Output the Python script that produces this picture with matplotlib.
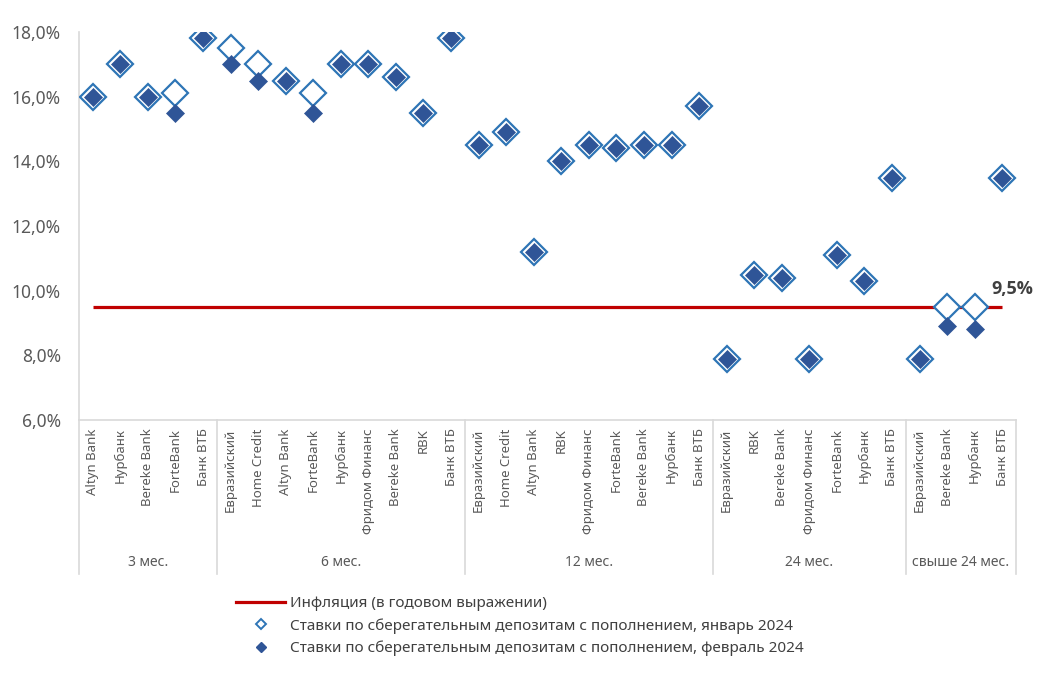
import matplotlib
matplotlib.use("Agg")
import matplotlib.pyplot as plt
from matplotlib.lines import Line2D
from matplotlib.ticker import FuncFormatter, MultipleLocator

plt.rcParams['font.family'] = ['Noto Sans', 'DejaVu Sans']

groups = ["3 мес.", "6 мес.", "12 мес.", "24 мес.", "свыше 24 мес."]
banks_3m = ["Altyn Bank", "Нурбанк", "Bereke Bank", "ForteBank", "Банк ВТБ"]
banks_6m = ["Евразийский", "Home Credit", "Altyn Bank", "ForteBank", "Нурбанк",
            "Фридом Финанс", "Bereke Bank", "RBK", "Банк ВТБ"]
banks_12m = ["Евразийский", "Home Credit", "Altyn Bank", "RBK", "Фридом Финанс",
             "ForteBank", "Bereke Bank", "Нурбанк", "Банк ВТБ"]
banks_24m = ["Евразийский", "RBK", "Bereke Bank", "Фридом Финанс", "ForteBank",
             "Нурбанк", "Банк ВТБ"]
banks_24p = ["Евразийский", "Bereke Bank", "Нурбанк", "Банк ВТБ"]

jan_3m = [16.0, 17.0, 16.0, 16.1, 17.8]
feb_3m = [16.0, 17.0, 16.0, 15.5, 17.8]
jan_6m = [17.5, 17.0, 16.5, 16.1, 17.0, 17.0, 16.6, 15.5, 17.8]
feb_6m = [17.0, 16.5, 16.5, 15.5, 17.0, 17.0, 16.6, 15.5, 17.8]
jan_12m = [14.5, 14.9, 11.2, 14.0, 14.5, 14.4, 14.5, 14.5, 15.7]
feb_12m = [14.5, 14.9, 11.2, 14.0, 14.5, 14.4, 14.5, 14.5, 15.7]
jan_24m = [7.9, 10.5, 10.4, 7.9, 11.1, 10.3, 13.5]
feb_24m = [7.9, 10.5, 10.4, 7.9, 11.1, 10.3, 13.5]
jan_24p = [7.9, 9.5, 9.5, 13.5]
feb_24p = [7.9, 8.9, 8.8, 13.5]

inflation = 9.5

group_banks = [banks_3m, banks_6m, banks_12m, banks_24m, banks_24p]
labels = sum(group_banks, [])
jan = jan_3m + jan_6m + jan_12m + jan_24m + jan_24p
feb = feb_3m + feb_6m + feb_12m + feb_24m + feb_24p
x = list(range(len(labels)))

W, H = 1043, 673
fig = plt.figure(figsize=(W / 100, H / 100), dpi=100)
ax = fig.add_axes([79 / W, (H - 420) / H, (1016 - 79) / W, (420 - 32) / H])

text_c = '#595959'
axis_c = '#D9D9D9'
red = '#C00000'
jan_c = '#2E75B6'
feb_c = '#2F5597'

ax.plot([x[0], x[-1]], [inflation, inflation], color=red, lw=2.3, zorder=2,
        solid_capstyle='butt')
ax.plot(x, jan, linestyle='none', marker='D', ms=13, mfc='white', mec=jan_c,
        mew=1.6, zorder=3)
ax.plot(x, feb, linestyle='none', marker='D', ms=9.3, mfc=feb_c, mec=feb_c,
        mew=0.5, zorder=4)

ax.text(x[-1] - 0.38, inflation + 0.55, "9,5%", fontsize=13, fontweight='bold',
        family=['Open Sans', 'DejaVu Sans'], color='#404040', ha='left', va='center')

ax.set_xlim(-0.5, len(labels) - 0.5)
ax.set_ylim(6, 18)
ax.yaxis.set_major_locator(MultipleLocator(2))
ax.yaxis.set_major_formatter(FuncFormatter(lambda v, p: f"{v:.1f}%".replace('.', ',')))
ax.tick_params(axis='y', length=0, labelsize=12.5, labelcolor=text_c, pad=13)
ax.set_xticks(x)
ax.set_xticklabels(labels, rotation=90, fontsize=9.5, color=text_c)
ax.tick_params(axis='x', length=0, pad=6)
for s in ['top', 'right']:
    ax.spines[s].set_visible(False)
for s in ['left', 'bottom']:
    ax.spines[s].set_color(axis_c)
    ax.spines[s].set_linewidth(1.2)

# group separators and labels
trans = ax.get_xaxis_transform()
y_lab = (420 - 563) / 388
y_end = (420 - 574) / 388
start = -0.5
bounds = [start]
for g, b in zip(groups, group_banks):
    end = start + len(b)
    ax.text((start + end) / 2, y_lab, g, transform=trans, ha='center', va='center',
            fontsize=10, color=text_c)
    bounds.append(end)
    start = end
for bx in bounds:
    ax.plot([bx, bx], [0, y_end], transform=trans, color=axis_c, lw=1.2,
            clip_on=False)

handles = [
    Line2D([0], [0], color=red, lw=2.3),
    Line2D([0], [0], linestyle='none', marker='D', ms=5.5, mfc='white', mec=jan_c, mew=1.4),
    Line2D([0], [0], linestyle='none', marker='D', ms=5.5, mfc=feb_c, mec=feb_c),
]
leg_labels = ["Инфляция (в годовом выражении)",
              "Ставки по сберегательным депозитам с пополнением, январь 2024",
              "Ставки по сберегательным депозитам с пополнением, февраль 2024"]
fig.legend(handles, leg_labels, loc='upper left', bbox_to_anchor=(230 / W, 1 - 590 / H),
           frameon=False, fontsize=11, handlelength=3.2, handletextpad=0.3,
           labelspacing=0.45, labelcolor='#404040', borderaxespad=0)

fig.savefig("out.png", dpi=100, facecolor='white')
